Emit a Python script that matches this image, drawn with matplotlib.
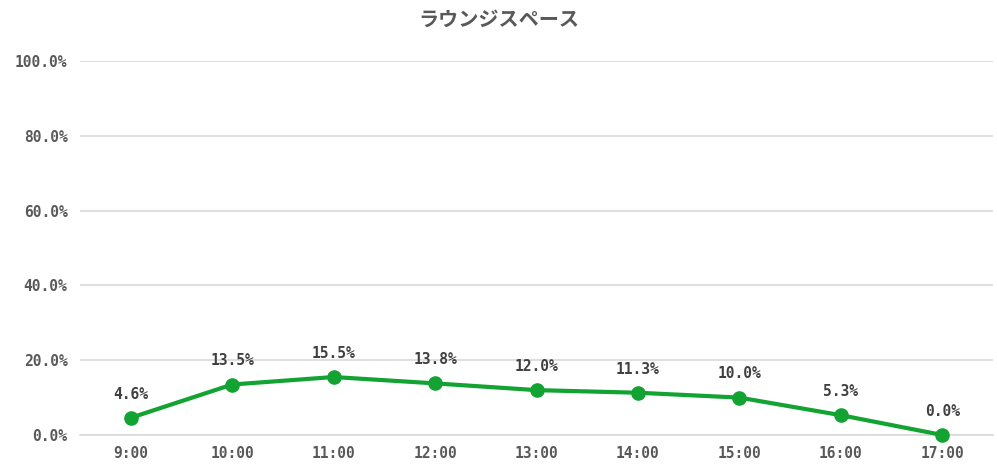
import matplotlib
matplotlib.use('Agg')
import matplotlib.pyplot as plt
from matplotlib.ticker import FuncFormatter

# Data
title = 'ラウンジスペース'
hours = ['9:00', '10:00', '11:00', '12:00', '13:00', '14:00', '15:00', '16:00', '17:00']
rates = [4.6, 13.5, 15.5, 13.8, 12.0, 11.3, 10.0, 5.3, 0.0]

green = '#12A332'
text_gray = '#595959'
num_font = ['DejaVu Sans Mono', 'Noto Sans CJK JP']

plt.rcParams['font.family'] = ['Noto Sans CJK JP', 'DejaVu Sans']

fig = plt.figure(figsize=(9.97, 4.65), dpi=100)
ax = fig.add_axes([80 / 997, 1 - 435 / 465, 913 / 997, (435 - 61) / 465])

x = list(range(len(hours)))
ax.plot(x, rates, color=green, linewidth=3, marker='o', markersize=9.5,
        solid_capstyle='round', zorder=3, clip_on=False)

# Data labels
for xi, v in zip(x, rates):
    ax.annotate('{:.1f}%'.format(v), (xi, v), xytext=(0, 17), textcoords='offset points',
                ha='center', va='center', fontsize=10.5, color='#404040',
                family=num_font, fontweight='bold')

ax.set_xlim(-0.5, len(hours) - 0.5)
ax.set_ylim(0, 100)
ax.set_yticks([0, 20, 40, 60, 80, 100])
ax.yaxis.set_major_formatter(FuncFormatter(lambda v, p: '{:.1f}%'.format(v)))
ax.set_xticks(x)
ax.set_xticklabels(hours)

for lab in ax.get_xticklabels() + ax.get_yticklabels():
    lab.set_family(num_font)
    lab.set_fontsize(10.5)
    lab.set_color(text_gray)
    lab.set_fontweight('bold')

ax.grid(axis='y', color='#D9D9D9', linewidth=1.2)
ax.set_axisbelow(True)
for s in ['top', 'right', 'left']:
    ax.spines[s].set_visible(False)
ax.spines['bottom'].set_color('#D9D9D9')
ax.spines['bottom'].set_linewidth(1.2)
ax.tick_params(axis='both', length=0)
ax.tick_params(axis='y', pad=9)
ax.tick_params(axis='x', pad=8)

fig.suptitle(title, x=0.5, y=1 - 19 / 465, va='center',
             fontsize=14.5, fontweight='bold', color=text_gray)

fig.savefig('out.png', dpi=100)
